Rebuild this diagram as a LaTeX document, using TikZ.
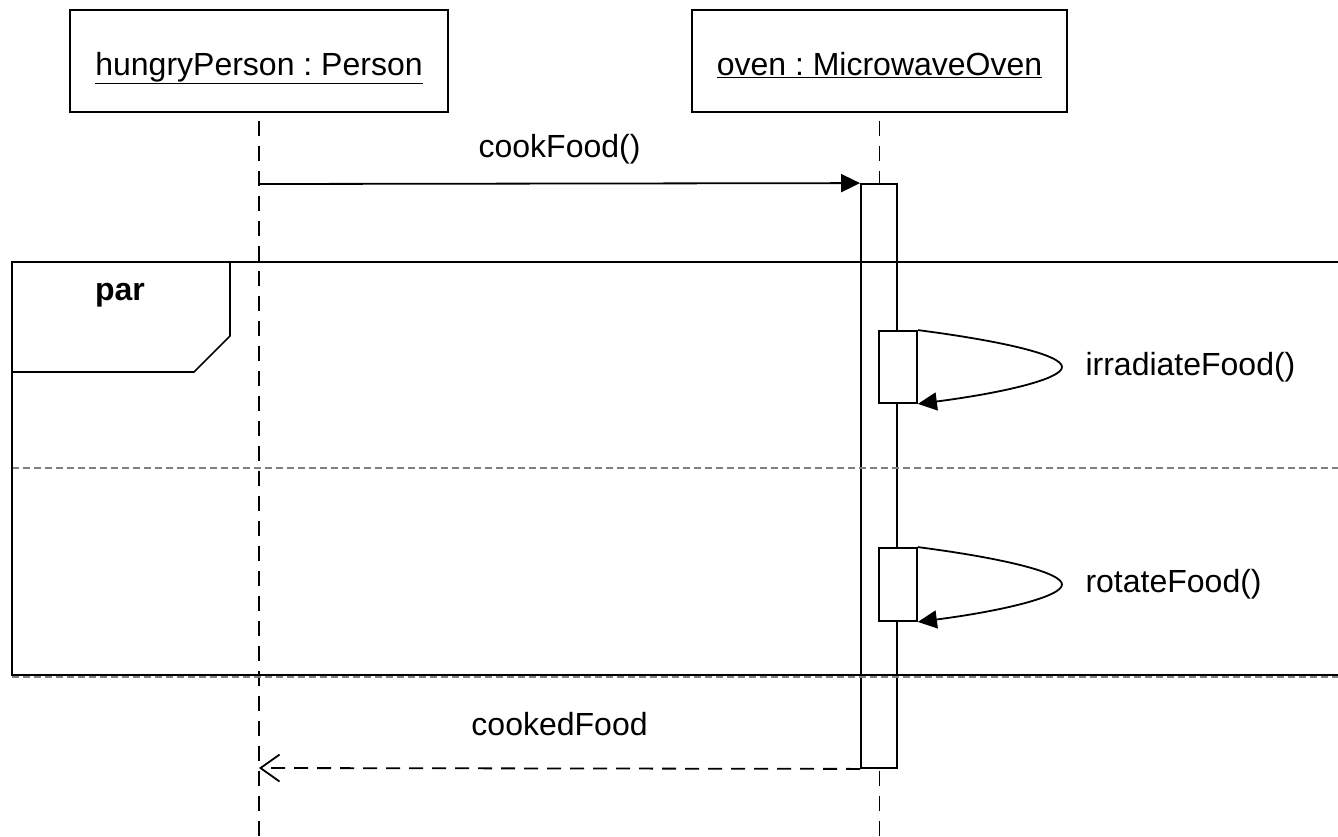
\documentclass[tikz,border=0pt]{standalone}
\usepackage{fontspec}
\setmainfont{Liberation Sans}
\usetikzlibrary{arrows.meta}
\frenchspacing

\tikzset{
    object/.style={draw, line width=1.8pt, inner sep=0pt, minimum height=102pt,
        text height=30pt, text depth=2pt, font=\fontsize{32}{38}\selectfont},
    lifeline/.style={line width=1.8pt, dash pattern=on 15pt off 10pt, dash phase=17pt},
    actbar/.style={draw, fill=white, line width=1.8pt, inner sep=0pt, minimum width=36pt},
    call/.style={line width=1.8pt, -{Triangle[length=19pt,width=18pt]}},
    reply/.style={line width=1.8pt, dash pattern=on 14pt off 9pt,
        -{Straight Barb[length=19pt,width=27pt,line width=1.8pt]}},
    msg/.style={font=\fontsize{32}{38}\selectfont},
    sep/.style={draw=gray, line width=1.8pt, dash pattern=on 7pt off 4pt},
}

\begin{document}
\begin{tikzpicture}[x=1pt, y=-1pt]
    \useasboundingbox (0,0) rectangle (1338,836);
    % objects
    \node[object, minimum width=378pt] (person) at (259,61) {\underline{hungryPerson : Person}};
    \node[object, minimum width=375pt] (oven) at (879.5,61) {\underline{oven : MicrowaveOven}};
    \coordinate (personend) at (259,836);
    \coordinate (ovenend) at (879.5,836);
    \draw[lifeline] (person.south) -- (personend);
    \draw[lifeline] (oven.south) -- (ovenend);
    \coordinate (cook) at (259,184);
    \coordinate (cooked) at (259,768);

    % activations
    \node[actbar, minimum height=584pt] (ovenact) at (879,476) {};
    \node[actbar, minimum width=38pt, minimum height=72pt] (irr) at (898,367) {};
    \node[actbar, minimum width=38pt, minimum height=73pt] (rot) at (898,584.5) {};
    \coordinate (irrtip) at (1062,367);
    \coordinate (rottip) at (1062,584.5);

    % par fragment
    \draw[sep] (12,468) -- (1350,468);
    \draw[sep] (12,677) -- (1350,677);
    \draw[line width=1.6pt] (1350,262) -- (12,262) -- (12,675) -- (1350,675);
    \draw[line width=1.6pt] (12,372) -- (194,372) -- (230,336) -- (230,262);
    \node[msg, font=\fontsize{32}{38}\selectfont\bfseries] (parlabel) at (120,295) {par};

    % messages
    \draw[call] (cook) -- node[msg, above=15pt] {cookFood()} (ovenact.north west);
    \draw[call] (irr.north east) .. controls +(85,11) and +(0,-12) .. (irrtip)
        .. controls +(0,12) and +(85,-11) .. (irr.south east);
    \node[msg, anchor=west] (irrlabel) at (1082,367) {irradiateFood()};
    \draw[call] (rot.north east) .. controls +(85,11) and +(0,-12) .. (rottip)
        .. controls +(0,12) and +(85,-11) .. (rot.south east);
    \node[msg, anchor=west] (rotlabel) at (1082,584.5) {rotateFood()};
    \draw[reply] (ovenact.south west) -- node[msg, above=28pt] {cookedFood} (cooked);
\end{tikzpicture}
\end{document}
